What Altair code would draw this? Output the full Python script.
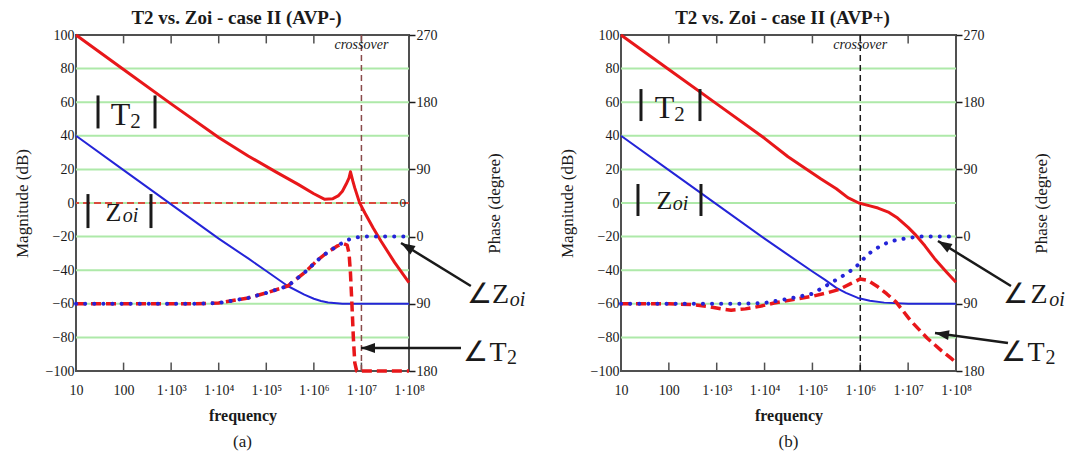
import altair as alt
import pandas as pd

FONT = "Liberation Serif"
RED = "#e8171a"
BLUE = "#2424d8"
GREEN = "#aee9a9"
INK = "#1a1a1a"
FRAME = "#505050"

PLOT_H = 336
WIDTH_A = 333
WIDTH_B = 335

# axis ticks and labels
FREQ_TICKS = [1e1, 1e2, 1e3, 1e4, 1e5, 1e6, 1e7, 1e8]
FREQ_LABELS = ["10", "100", "1·10³", "1·10⁴", "1·10⁵", "1·10⁶", "1·10⁷", "1·10⁸"]
INNER_TICKS = [1e2, 1e3, 1e4, 1e5, 1e6, 1e7]
MAG_TICKS = [-100, -80, -60, -40, -20, 0, 20, 40, 60, 80, 100]
GRID_DB = [-80, -60, -40, -20, 0, 20, 40, 60, 80]
PHASE_TICKS = [-180, -90, 0, 90, 180, 270]

# ---- case (a): AVP-  (frequency given as log10 decades) ----
A_T2_MAG_DEC = [1, 2, 3, 4, 4.62, 5.2, 5.67, 6.0, 6.23, 6.4, 6.51, 6.6, 6.68, 6.74, 6.77,
                6.82, 6.86, 6.96, 7.07, 7.25, 7.41, 7.7, 8.0]
A_T2_MAG_DB = [100, 79.5, 59, 39, 28, 18.5, 11.1, 5.5, 2.2, 2.6, 4.2, 7, 11.3, 15, 18.6,
               13, 9, 0.2, -5.8, -15, -22.6, -35.5, -47.4]
A_ZOI_MAG_DEC = [1, 2, 3, 4, 4.62, 5.0, 5.45, 5.8, 6.0, 6.15, 6.3, 6.6, 7, 8]
A_ZOI_MAG_DB = [40, 19.6, -0.8, -21.2, -33, -40.5, -49.4, -54.5, -57, -58.3, -59.2, -59.9, -60, -60]
A_ZOI_PH_DEC = [1, 3.5, 4.0, 4.62, 5.0, 5.45, 5.8, 6.08, 6.3, 6.5, 6.7, 6.9, 7.1, 8]
A_ZOI_PH_DEG = [-90, -90, -88.9, -82.1, -75.4, -66.2, -48.4, -31.5, -20.3, -12.4, -4.5, -1.1, 0, 0]
A_T2_PH_DEC = [1, 3.5, 4.0, 4.62, 5.0, 5.45, 5.8, 6.08, 6.3, 6.5, 6.62, 6.7, 6.74, 6.77, 6.8,
               6.83, 6.86, 6.9, 8]
A_T2_PH_DEG = [-90, -90, -88.9, -82.1, -75.4, -66.2, -48.4, -31.5, -20.3, -12.4, -9.5, -11.3,
               -22.5, -49.5, -90, -135, -168.8, -180, -180]

# ---- case (b): AVP+ ----
B_T2_MAG_DEC = [1, 2, 3, 4, 4.49, 5.18, 5.5, 5.74, 5.97, 6.2, 6.37, 6.6, 6.78, 7.0, 7.14,
                7.35, 7.55, 7.8, 8]
B_T2_MAG_DB = [100, 79.5, 59, 38.5, 27.5, 14.3, 8.5, 3.2, 0, -1.7, -3, -5.6, -9, -14.5, -18.5,
               -25.5, -33, -41, -47.2]
B_ZOI_MAG_DEC = [1, 2, 3, 4, 4.5, 5.0, 5.25, 5.5, 5.7, 5.95, 6.2, 6.5, 7, 8]
B_ZOI_MAG_DB = [40, 19.6, -0.8, -21.2, -31, -40.8, -45.5, -50.5, -53.5, -56.5, -58.2, -59.3, -60, -60]
B_ZOI_PH_DEC = [1, 3.5, 4, 4.5, 5, 5.3, 5.6, 5.9, 6.0, 6.25, 6.5, 6.75, 7.2, 8]
B_ZOI_PH_DEG = [-90, -90, -88.9, -83.3, -76.5, -65.3, -54, -41.6, -33.8, -19.1, -9.9, -4.5, 0, 0]
B_T2_PH_DEC = [1, 2, 2.5, 2.8, 3.1, 3.3, 3.6, 3.9, 4.2, 4.6, 5.0, 5.3, 5.55, 5.8, 6.0, 6.15,
               6.35, 6.55, 6.75, 7.05, 7.4, 7.7, 7.9, 8]
B_T2_PH_DEG = [-90, -90, -91.1, -93.4, -96.8, -98.6, -96.8, -93.4, -88.9, -84.4, -79.9, -75.4,
               -70.9, -63, -56.7, -58.5, -66.4, -76.5, -87.8, -112.5, -136.1, -153, -163.1, -168.8]

F_SCALE = alt.Scale(type="log", domain=[10, 1e8], nice=False)
MAG_SCALE = alt.Scale(domain=[-100, 100], nice=False, zero=False)
PH_SCALE = alt.Scale(domain=[-180, 270], nice=False, zero=False)

ARROW_HEAD = "M0,0L1,2.8L-1,2.8Z"

x_label_expr = "[" + ",".join("'%s'" % s for s in FREQ_LABELS) + "][round(log(datum.value) / LN10) - 1]"

# every layer carries the same axis definition so the shared axes merge cleanly
X_AXIS = alt.Axis(values=FREQ_TICKS, labelExpr=x_label_expr, tickSize=0, domain=False,
                  grid=False, labelPadding=12, labelFontSize=14, labelFont=FONT,
                  labelColor=INK, title="frequency", titleFont=FONT, titleFontSize=16,
                  titleFontWeight="bold", titleColor=INK, titlePadding=10, labelFlush=False,
                  labelOverlap=False, orient="bottom")
MAG_AXIS = alt.Axis(values=MAG_TICKS, tickSize=0, domain=False, grid=False, labelPadding=2,
                    labelFontSize=14, labelFont=FONT, labelColor=INK, title="Magnitude (dB)",
                    titleFont=FONT, titleFontSize=17, titleFontWeight="normal", titleColor=INK,
                    titlePadding=14, orient="left", labelFlush=False)
PH_AXIS = alt.Axis(values=PHASE_TICKS, labelExpr="format(abs(datum.value), 'd')", tickSize=6,
                   tickColor=INK, tickWidth=1.5, domain=False, grid=False, labelPadding=1,
                   labelFontSize=14, labelFont=FONT, labelColor=INK, title="Phase (degree)",
                   titleFont=FONT, titleFontSize=17, titleFontWeight="normal", titleColor=INK,
                   titlePadding=66, titleAngle=270, orient="right", labelFlush=False)


def X(field="f:Q"):
    return alt.X(field, scale=F_SCALE, axis=X_AXIS)


def YM(field="v:Q"):
    return alt.Y(field, scale=MAG_SCALE, axis=MAG_AXIS)


def YP(field="v:Q"):
    return alt.Y(field, scale=PH_SCALE, axis=PH_AXIS)


def curve(decades, values):
    return pd.DataFrame({"f": [10 ** d for d in decades], "v": values})


def line(df, color, width, dash=None, phase=False, cap="butt"):
    kw = dict(color=color, strokeWidth=width, strokeCap=cap, strokeJoin="round")
    if dash is not None:
        kw["strokeDash"] = dash
    return alt.Chart(df).mark_line(**kw).encode(x=X(), y=YP() if phase else YM())


def point_at(decade, db):
    return pd.DataFrame({"f": [10 ** decade], "v": [db]})


def text_part(decade, db, text, size, dx=0, dy=0, style="normal", align="center",
              baseline="alphabetic", weight="normal"):
    return alt.Chart(point_at(decade, db)).mark_text(
        text=text, font=FONT, fontSize=size, fontStyle=style, fontWeight=weight,
        align=align, baseline=baseline, dx=dx, dy=dy, color=INK,
    ).encode(x=X(), y=YM())


def bars(decade, db, half_w, half_h):
    out = []
    for off in (-half_w, half_w):
        out.append(alt.Chart(point_at(decade, db)).mark_rule(
            color=INK, strokeWidth=3, xOffset=off, yOffset=-half_h, y2Offset=half_h,
        ).encode(x=X(), y=YM(), y2="v2:Q").transform_calculate(v2="datum.v"))
    return out


def mag_label(decade, db, letter, letter_size, sub, sub_size, sub_style, half_w, half_h,
              letter_dx, letter_dy, sub_dx, sub_dy):
    return bars(decade, db, half_w, half_h) + [
        text_part(decade, db, letter, letter_size, dx=letter_dx, dy=letter_dy),
        text_part(decade, db, sub, sub_size, dx=sub_dx, dy=sub_dy, style=sub_style),
    ]


def angle_label(decade, db, letter, sub, sub_style, angle_dx, sub_dx, sub_dy):
    return [
        text_part(decade, db, "∠", 28, dx=angle_dx),
        text_part(decade, db, letter, 28),
        text_part(decade, db, sub, 20, dx=sub_dx, dy=sub_dy, style=sub_style),
    ]


def arrow(tail, head, angle):
    df = pd.DataFrame({"f": [10 ** tail[0]], "v": [tail[1]],
                       "f2": [10 ** head[0]], "v2": [head[1]]})
    shaft = alt.Chart(df).mark_rule(color=INK, strokeWidth=2.5).encode(
        x=X(), x2="f2:Q", y=YM(), y2="v2:Q")
    tip = alt.Chart(point_at(*head)).mark_point(
        shape=ARROW_HEAD, filled=True, size=100, angle=angle, color=INK, opacity=1,
    ).encode(x=X(), y=YM())
    return [shaft, tip]


def panel(title, tag, t2_mag, zoi_mag, t2_ph, zoi_ph, cross_dec, cross_color, zero_line,
          extra, width):
    grid = alt.Chart(pd.DataFrame({"v": GRID_DB})).mark_rule(color=GREEN, strokeWidth=2).encode(
        y=YM())
    layers = [grid]
    if zero_line:
        layers.append(alt.Chart(pd.DataFrame({"v": [0]})).mark_rule(
            color=RED, strokeWidth=1.5, strokeDash=[7, 4]).encode(y=YM()))
        layers.append(text_part(8, 0, "0", 13, dx=-3, align="right", baseline="middle"))
    ticks = pd.DataFrame({"f": INNER_TICKS * 2,
                          "v": [-100] * len(INNER_TICKS) + [100] * len(INNER_TICKS),
                          "v2": [-95] * len(INNER_TICKS) + [95] * len(INNER_TICKS)})
    layers.append(alt.Chart(ticks).mark_rule(color=FRAME, strokeWidth=1.5).encode(
        x=X(), y=YM(), y2="v2:Q"))
    layers.append(alt.Chart(pd.DataFrame({"f": [10 ** cross_dec]})).mark_rule(
        color=cross_color, strokeWidth=1.5, strokeDash=[6, 4]).encode(x=X()))
    layers.append(text_part(cross_dec, 94, "crossover", 14, style="italic", baseline="middle"))
    layers.append(line(t2_mag, RED, 3))
    layers.append(line(zoi_mag, BLUE, 2))
    layers.append(text_part(4.5, -142.3, tag, 17, baseline="middle"))
    layers += extra
    mag_group = alt.layer(*layers)

    ph_group = alt.layer(
        line(t2_ph, RED, 3.5, dash=[10, 5], phase=True),
        line(zoi_ph, BLUE, 4, dash=[0.1, 9], phase=True, cap="round"),
    )
    return alt.layer(mag_group, ph_group).resolve_scale(y="independent").properties(
        width=width, height=PLOT_H,
        title=alt.TitleParams(title, font=FONT, fontSize=19, fontWeight="bold", color=INK,
                              anchor="middle", dx=-6, offset=0),
    )


extra_a = (
    mag_label(2.062, 54.2, "T", 32, "2", 21, "normal", 28.5, 16.5, -6, 13, 9, 16)
    + mag_label(1.914, -4.8, "Z", 26, "oi", 20, "italic", 31.5, 17, -6, 10, 11, 11)
    + angle_label(9.924, -59.5, "Z", "oi", "italic", -21.5, 17, 3)
    + angle_label(9.871, -94.0, "T", "2", "normal", -22.5, 14, 3)
    + arrow((9.30, -49.4), (7.832, -23.8), 301.6)
    + arrow((9.093, -86.3), (6.991, -86.3), 270)
)
extra_b = (
    mag_label(2.034, 58.3, "T", 32, "2", 21, "normal", 29.5, 16, -6, 13, 9, 16)
    + mag_label(2.013, 1.8, "Z", 26, "oi", 20, "italic", 31.5, 16, -5, 9, 11, 10)
    + angle_label(9.734, -59.5, "Z", "oi", "italic", -23.5, 18, 3)
    + angle_label(9.671, -94.0, "T", "2", "normal", -22.5, 14.5, 3)
    + arrow((9.149, -49.4), (7.623, -22.6), 301.6)
    + arrow((9.086, -83.3), (7.561, -77.4), 278.6)
)

left = panel("T2 vs. Zoi - case II (AVP-)", "(a)",
             curve(A_T2_MAG_DEC, A_T2_MAG_DB), curve(A_ZOI_MAG_DEC, A_ZOI_MAG_DB),
             curve(A_T2_PH_DEC, A_T2_PH_DEG), curve(A_ZOI_PH_DEC, A_ZOI_PH_DEG),
             7.0, "#8a4a4a", True, extra_a, WIDTH_A)
right = panel("T2 vs. Zoi - case II (AVP+)", "(b)",
              curve(B_T2_MAG_DEC, B_T2_MAG_DB), curve(B_ZOI_MAG_DEC, B_ZOI_MAG_DB),
              curve(B_T2_PH_DEC, B_T2_PH_DEG), curve(B_ZOI_PH_DEC, B_ZOI_PH_DEG),
              6.0, INK, False, extra_b, WIDTH_B)

chart = alt.hconcat(left, right, spacing=212, bounds="flush").properties(
    padding={"left": 12, "top": 8, "right": 0, "bottom": 2},
    background="white",
).configure_view(stroke=FRAME, strokeWidth=2).configure_axis(
    labelFont=FONT, titleFont=FONT,
).configure_text(font=FONT)

chart.save("out.html", embed_options={"renderer": "svg", "actions": False})
